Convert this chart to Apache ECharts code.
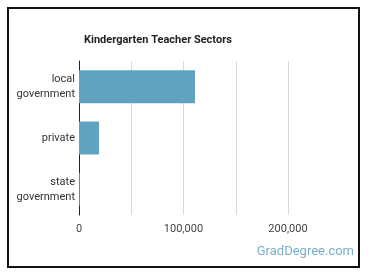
<!DOCTYPE html>
<html>
<head>
<meta charset="utf-8">
<script src="https://cdn.jsdelivr.net/npm/echarts@6/dist/echarts.min.js"></script>
<style>
  html, body { margin: 0; padding: 0; background: #fff; }
  #chart { width: 370px; height: 278px; }
</style>
</head>
<body>
<div id="chart"></div>
<script>
const categories = ['local\ngovernment', 'private', 'state\ngovernment']
const employees = [111000, 19200, 800]
const xTickLabels = { 0: '0', 100000: '100,000', 200000: '200,000' }

const chart = echarts.init(document.getElementById('chart'))

chart.setOption({
  animation: false,
  title: {
    text: 'Kindergarten Teacher Sectors',
    left: 79,
    top: 30,
    textStyle: { fontFamily: 'Roboto', fontSize: 11, fontWeight: 'bold', color: '#222' },
  },
  grid: { left: 79, top: 61, width: 209, height: 154 },
  xAxis: {
    type: 'value',
    min: 0,
    max: 200000,
    interval: 50000,
    axisLine: { show: false },
    axisTick: { show: false },
    splitLine: { lineStyle: { color: '#d9d9d9', width: 1 } },
    axisLabel: {
      margin: 9,
      fontFamily: 'Roboto',
      fontSize: 11,
      color: '#444',
      formatter: (v) => xTickLabels[v] ?? '',
    },
  },
  yAxis: {
    type: 'category',
    data: categories,
    inverse: true,
    axisLine: { lineStyle: { color: '#222', width: 1 } },
    axisTick: { show: false },
    axisLabel: {
      margin: 4,
      fontFamily: 'Roboto',
      fontSize: 11,
      lineHeight: 15,
      color: '#333',
      align: 'right',
    },
  },
  series: [
    {
      type: 'bar',
      data: employees,
      barWidth: 33,
      itemStyle: { color: '#5fa3c1' },
      silent: true,
    },
  ],
  graphic: [
    {
      type: 'rect',
      shape: { x: 8, y: 8, width: 351, height: 259 },
      style: { fill: 'none', stroke: '#111', lineWidth: 2 },
      silent: true,
    },
    {
      type: 'text',
      right: 16,
      top: 245,
      style: { text: 'GradDegree.com', font: '13px Roboto', fill: '#7aaecb' },
      silent: true,
    },
  ],
})
</script>
</body>
</html>
